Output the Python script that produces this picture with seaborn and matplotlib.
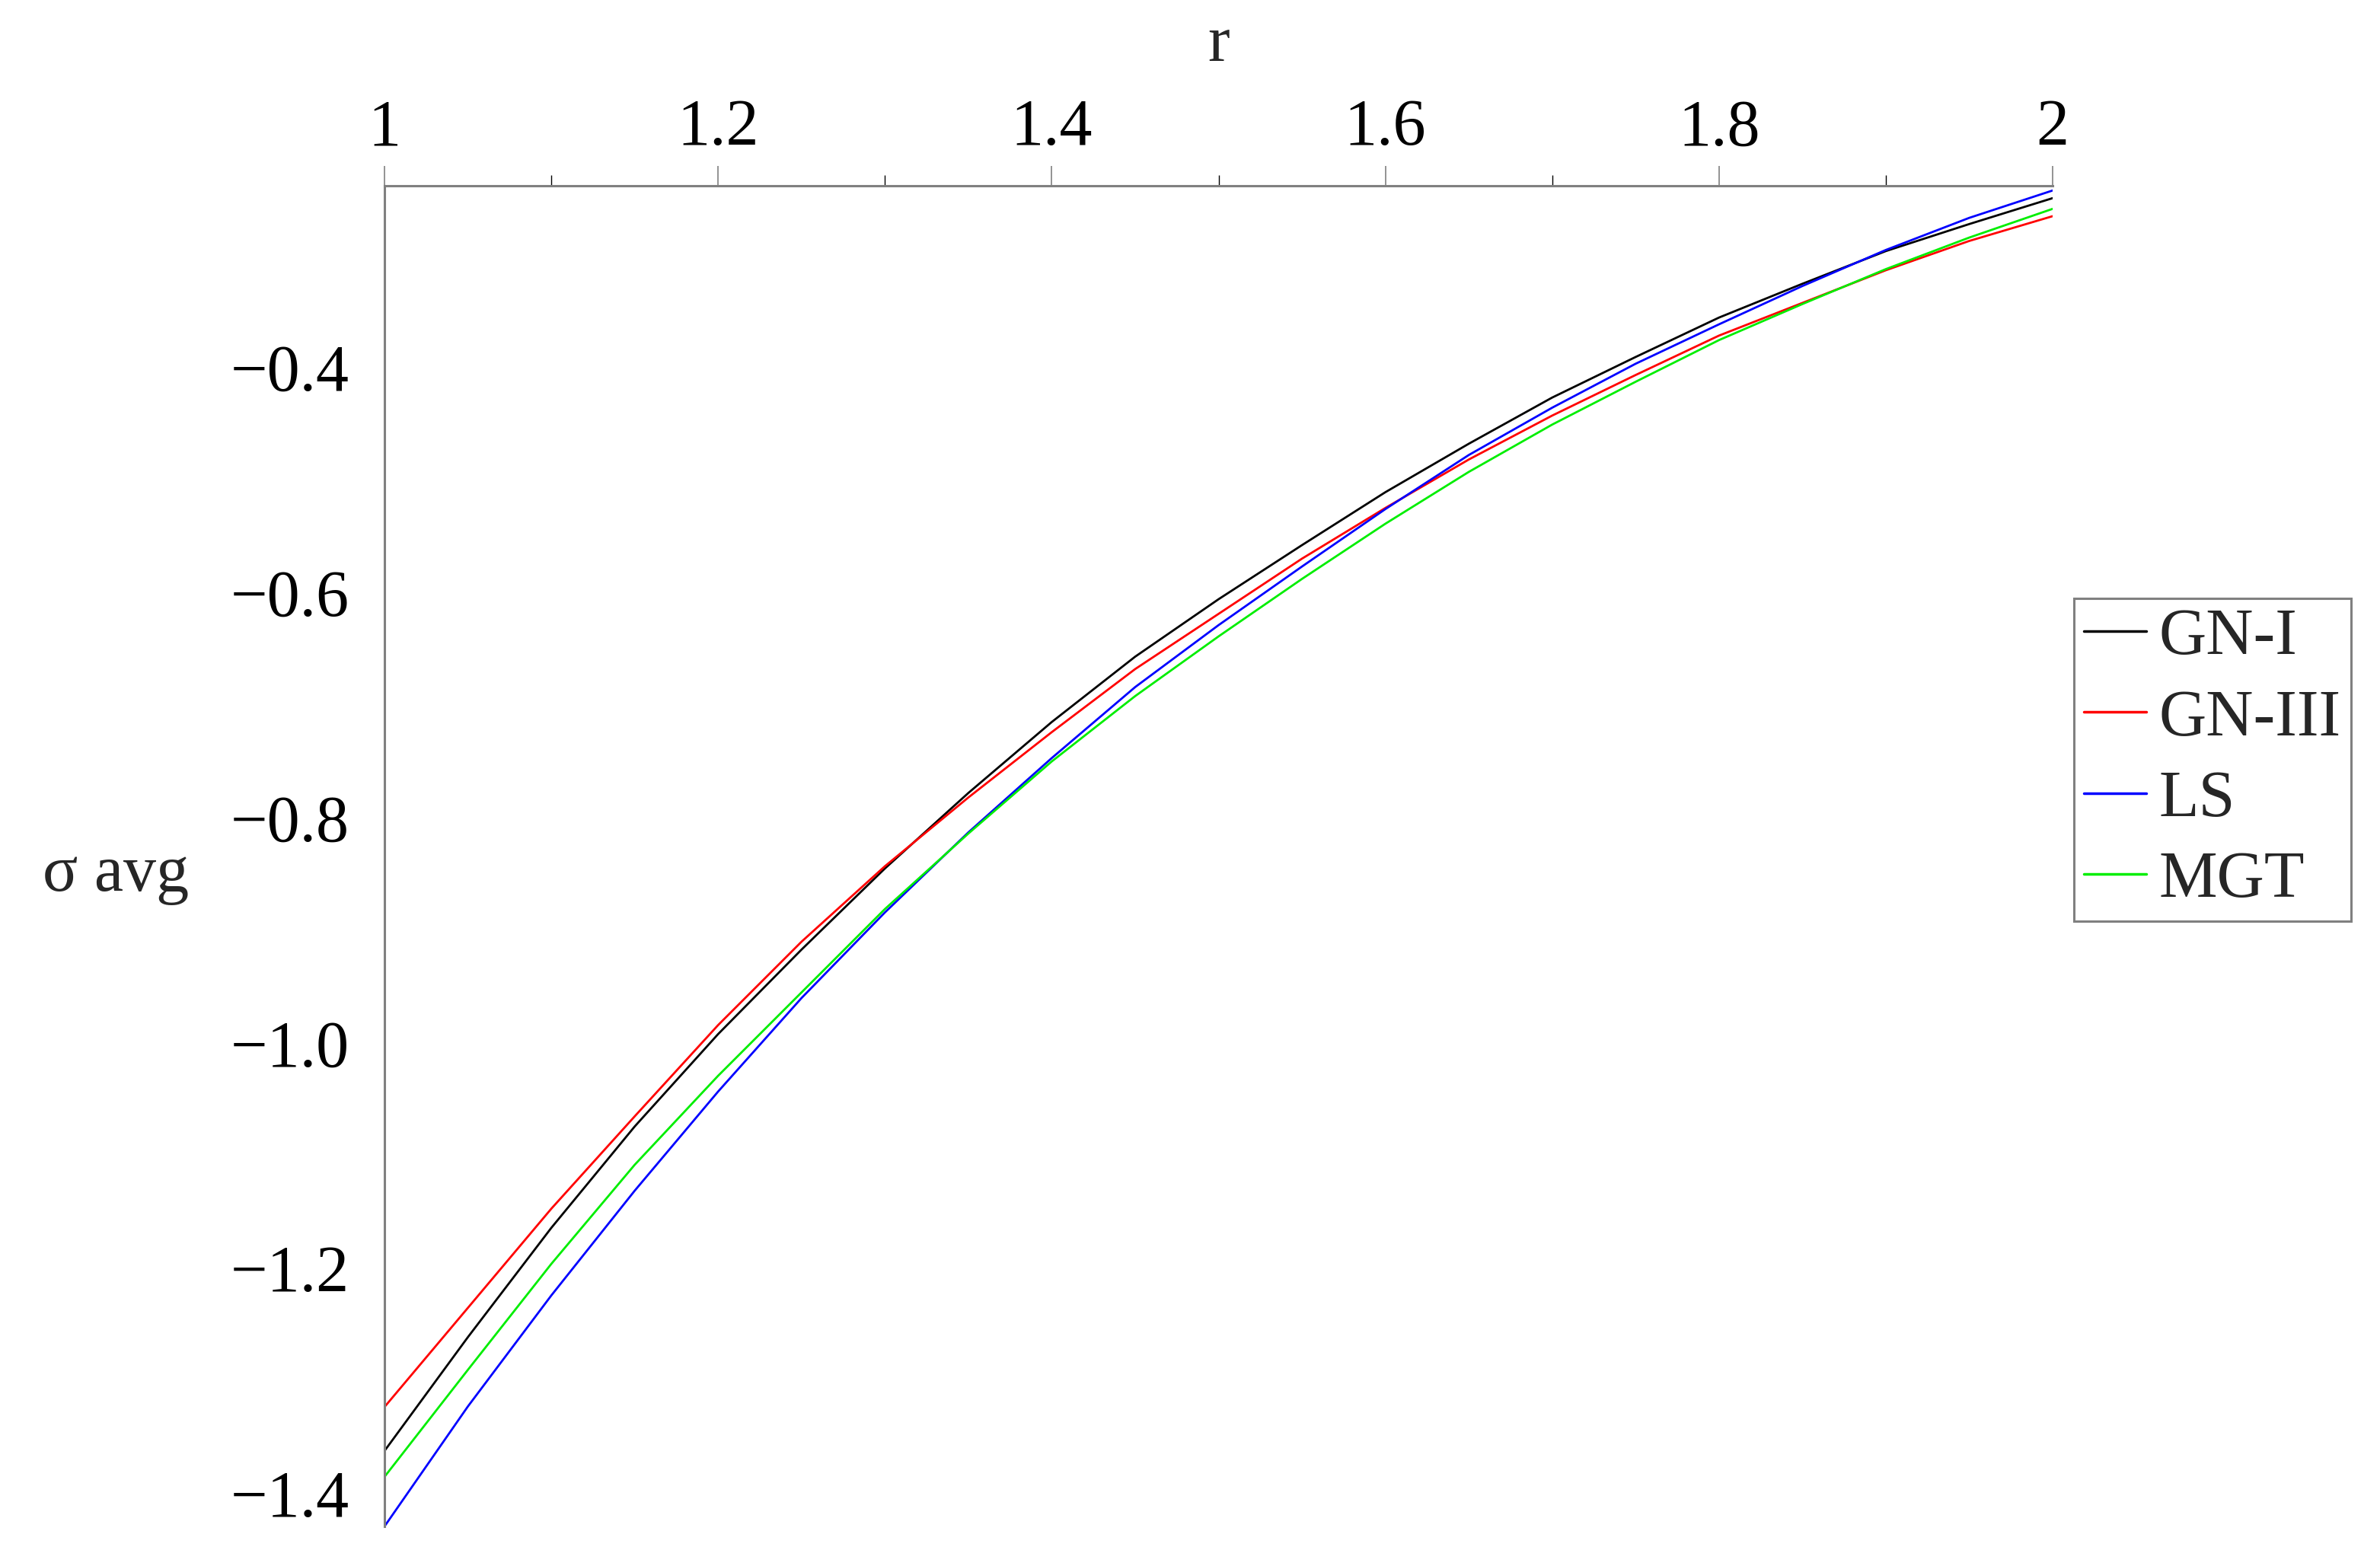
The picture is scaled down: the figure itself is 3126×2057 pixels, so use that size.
import numpy as np
import pandas as pd
import matplotlib
matplotlib.use('Agg')
import matplotlib.pyplot as plt
from matplotlib.ticker import MultipleLocator, FuncFormatter
import seaborn as sns

# values at r = 1.00, 1.05, ..., 2.00
models = ['GN-I', 'GN-III', 'LS', 'MGT']
colors = ['#000000', '#ff0000', '#0000ff', '#00ee00']

r_vals = [1.00, 1.05, 1.10, 1.15, 1.20, 1.25, 1.30, 1.35, 1.40, 1.45, 1.50,
          1.55, 1.60, 1.65, 1.70, 1.75, 1.80, 1.85, 1.90, 1.95, 2.00]

s_gn1 = [-1.362, -1.261, -1.164, -1.074, -0.992, -0.917, -0.845, -0.778, -0.715, -0.657, -0.606,
         -0.558, -0.511, -0.468, -0.427, -0.391, -0.356, -0.326, -0.297, -0.273, -0.250]
s_gn3 = [-1.323, -1.235, -1.147, -1.065, -0.984, -0.910, -0.843, -0.782, -0.724, -0.668, -0.619,
         -0.570, -0.525, -0.482, -0.443, -0.407, -0.372, -0.343, -0.314, -0.288, -0.266]
s_ls = [-1.429, -1.3225, -1.224, -1.131, -1.043, -0.960, -0.884, -0.813, -0.747, -0.684, -0.629,
        -0.577, -0.526, -0.478, -0.436, -0.397, -0.362, -0.328, -0.296, -0.2675, -0.2432]
s_mgt = [-1.385, -1.290, -1.196, -1.108, -1.029, -0.955, -0.881, -0.814, -0.750, -0.692, -0.639,
         -0.588, -0.539, -0.493, -0.451, -0.413, -0.376, -0.344, -0.313, -0.285, -0.2595]

x_ticks = [1.0, 1.2, 1.4, 1.6, 1.8, 2.0]
y_ticks = [-1.4, -1.2, -1.0, -0.8, -0.6, -0.4]

frames = []
for name, ss in zip(models, [s_gn1, s_gn3, s_ls, s_mgt]):
    frames.append(pd.DataFrame({'r': r_vals, 'sigma': ss, 'model': name}))
df = pd.concat(frames, ignore_index=True)

sns.set_theme(style='white')
plt.rcParams['font.family'] = ['Liberation Serif', 'DejaVu Serif']
plt.rcParams['axes.unicode_minus'] = True

W, H = 3126, 2057
fig = plt.figure(figsize=(W / 100, H / 100), dpi=100)
# axes box in pixels: x 505..2696, y 244..2005
ax = fig.add_axes([505 / W, 1 - 2005 / H, (2696 - 505) / W, (2005 - 244) / H])

sns.lineplot(data=df, x='r', y='sigma', hue='model', hue_order=models,
             palette=dict(zip(models, colors)), linewidth=2.0,
             estimator=None, sort=True, ax=ax)

ax.set_xlim(1.0, 2.0)
ax.set_ylim(-1.429, -0.239)

grey = '#808080'
for side in ['right', 'bottom']:
    ax.spines[side].set_visible(False)
for side in ['left', 'top']:
    ax.spines[side].set_visible(True)
    ax.spines[side].set_color(grey)
    ax.spines[side].set_linewidth(2.2)

ax.xaxis.tick_top()
ax.set_xticks(x_ticks)
ax.xaxis.set_minor_locator(MultipleLocator(0.1))
ax.set_yticks(y_ticks)
ax.yaxis.set_minor_locator(MultipleLocator(0.1))
ax.xaxis.set_major_formatter(FuncFormatter(lambda v, p: f'{v:g}'))
ax.yaxis.set_major_formatter(FuncFormatter(lambda v, p: f'\u2212{abs(v):.1f}'))

ax.tick_params(axis='both', which='major', direction='out', length=19,
               width=1.2, color=grey, labelsize=62, labelcolor='black')
ax.tick_params(axis='both', which='minor', direction='out', length=10,
               width=1.0, color='black')
ax.tick_params(axis='x', which='major', pad=6)
ax.tick_params(axis='y', which='major', pad=14)

ax.set_xlabel('r', fontsize=62)
ax.xaxis.set_label_position('top')
ax.xaxis.set_label_coords(0.5, 1.093)
ax.set_ylabel('\u03c3 avg', fontsize=62, rotation=0, ha='center', va='center')
ax.yaxis.set_label_coords(-0.161, 0.486)

handles, labels = ax.get_legend_handles_labels()
leg = ax.legend(handles, labels, loc='upper left',
                bbox_to_anchor=(2724 / W, 1 - 786 / H), bbox_transform=fig.transFigure,
                fontsize=62, frameon=True, fancybox=False, framealpha=1,
                edgecolor=grey, handlelength=0.95, handletextpad=0.2,
                labelspacing=0.31, borderpad=0.15, borderaxespad=0)
leg.get_frame().set_linewidth(2.2)
for line in leg.get_lines():
    line.set_linewidth(2.5)

fig.savefig('out.png', dpi=100, facecolor='white')
